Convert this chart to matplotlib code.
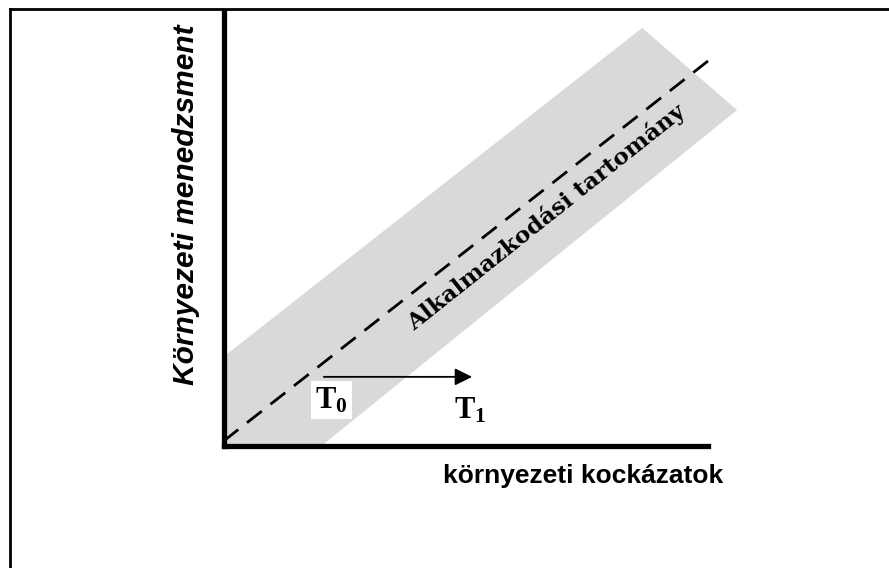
import matplotlib
matplotlib.use("Agg")
import matplotlib.pyplot as plt
from matplotlib.lines import Line2D

plt.rcParams['mathtext.fontset'] = 'custom'
plt.rcParams['mathtext.bf'] = 'Liberation Serif:bold'
plt.rcParams['mathtext.rm'] = 'Liberation Serif:bold'

# --- data (abstract diagram units, 0..100 on both axes) ---
band_x = [0, 86.4, 106.0, 20.3, 0]
band_y = [20.4, 96.1, 77.2, 0, 0]
diag_x = [0, 100]
diag_y = [1, 88.5]
arrow_start = (20.7, 15.8)
arrow_end = (51.3, 15.8)
t0_pos = (22.3, 10.4)
t1_pos = (51.0, 8.0)
band_label_pos = (66.6, 52.5)

x_label = "környezeti kockázatok"
y_label = "Környezeti menedzsment"
band_label = "Alkalmazkodási tartomány"
t0_label = r"$\mathbf{T_0}$"
t1_label = r"$\mathbf{T_1}$"

W, H = 889, 568
fig = plt.figure(figsize=(W / 100, H / 100), dpi=100)
fig.patch.set_facecolor('white')

ax = fig.add_axes([223.5 / W, (H - 445.5) / H, (708 - 223.5) / W, (445.5 - 11) / H])
ax.set_xlim(0, 100)
ax.set_ylim(0, 100)
ax.patch.set_alpha(0)
for s in ['top', 'right']:
    ax.spines[s].set_visible(False)
for s in ['left', 'bottom']:
    ax.spines[s].set_linewidth(3.8)
    ax.spines[s].set_zorder(5)
ax.set_xticks([])
ax.set_yticks([])

ax.fill(band_x, band_y, color='#d9d9d9', lw=0, clip_on=False, zorder=1)
ax.plot(diag_x, diag_y, color='black', lw=2.0, dashes=(6.75, 4), clip_on=False, zorder=3)

ax.annotate('', xy=arrow_end, xytext=arrow_start,
            arrowprops=dict(arrowstyle='-|>', color='black', lw=1.3,
                            mutation_scale=26, shrinkA=0, shrinkB=0),
            zorder=4)

ax.text(*t0_pos, t0_label, fontsize=22, ha='center', va='center', zorder=4,
        bbox=dict(facecolor='white', edgecolor='none', pad=3))
ax.text(*t1_pos, t1_label, fontsize=22, ha='center', va='center', zorder=4)

ax.text(*band_label_pos, band_label, fontsize=16.8, family='DejaVu Serif',
        fontweight='bold', rotation=38.5, rotation_mode='anchor',
        ha='center', va='center', zorder=4)

fig.text(186 / W, 1 - 205 / H, y_label, rotation=90, ha='center', va='center',
         fontsize=21.5, family='Liberation Sans', fontweight='bold', fontstyle='italic')
fig.text(583 / W, 1 - 476 / H, x_label, ha='center', va='center',
         fontsize=19, family='Liberation Sans', fontweight='bold')

# outer frame (left and top edges)
fig.add_artist(Line2D([10 / W, 10 / W], [0, 1 - 9 / H], color='black', lw=2.0,
                      transform=fig.transFigure))
fig.add_artist(Line2D([10 / W, 1], [1 - 9 / H, 1 - 9 / H], color='black', lw=2.0,
                      transform=fig.transFigure))

fig.savefig('out.png', dpi=100)
